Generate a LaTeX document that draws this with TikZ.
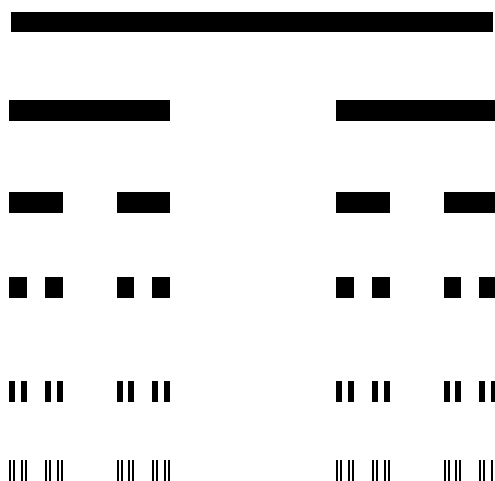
\documentclass[tikz,border=0pt]{standalone}
\begin{document}
\begin{tikzpicture}[x=1pt,y=-1pt]
\useasboundingbox (0,0) rectangle (495,481);
\clip (0,0) rectangle (495,481);
\tikzset{bar/.style={fill=black}}
\def\W{161.3}
% level 1
\fill[bar] (11,12) rectangle (493,32);
% level 2
\foreach \B in {9,336}{
  \fill[bar] (\B,100) rectangle ++({\W},21);
}
% level 3
\foreach \B in {9,336}{
  \foreach \a in {0,1}{
    \pgfmathsetmacro\s{\B+\a*2*\W/3}
    \fill[bar] (\s,192) rectangle ++({\W/3},21);
  }
}
% level 4
\foreach \B in {9,336}{
  \foreach \a in {0,1}{
    \foreach \b in {0,1}{
      \pgfmathsetmacro\s{\B+\a*2*\W/3+\b*2*\W/9}
      \fill[bar] (\s,277) rectangle ++({\W/9},20.5);
    }
  }
}
% level 5
\foreach \B in {9,336}{
  \foreach \a in {0,1}{
    \foreach \b in {0,1}{
      \foreach \c in {0,1}{
        \pgfmathsetmacro\s{\B+\a*2*\W/3+\b*2*\W/9+\c*2*\W/27}
        \fill[bar] (\s,381) rectangle ++({\W/27},21);
      }
    }
  }
}
% level 6
\foreach \B in {9,336}{
  \foreach \a in {0,1}{
    \foreach \b in {0,1}{
      \foreach \c in {0,1}{
        \foreach \d in {0,1}{
          \pgfmathsetmacro\s{\B+\a*2*\W/3+\b*2*\W/9+\c*2*\W/27+\d*2*\W/81}
          \fill[bar] (\s,460) rectangle ++({\W/81},22);
        }
      }
    }
  }
}
\end{tikzpicture}
\end{document}
